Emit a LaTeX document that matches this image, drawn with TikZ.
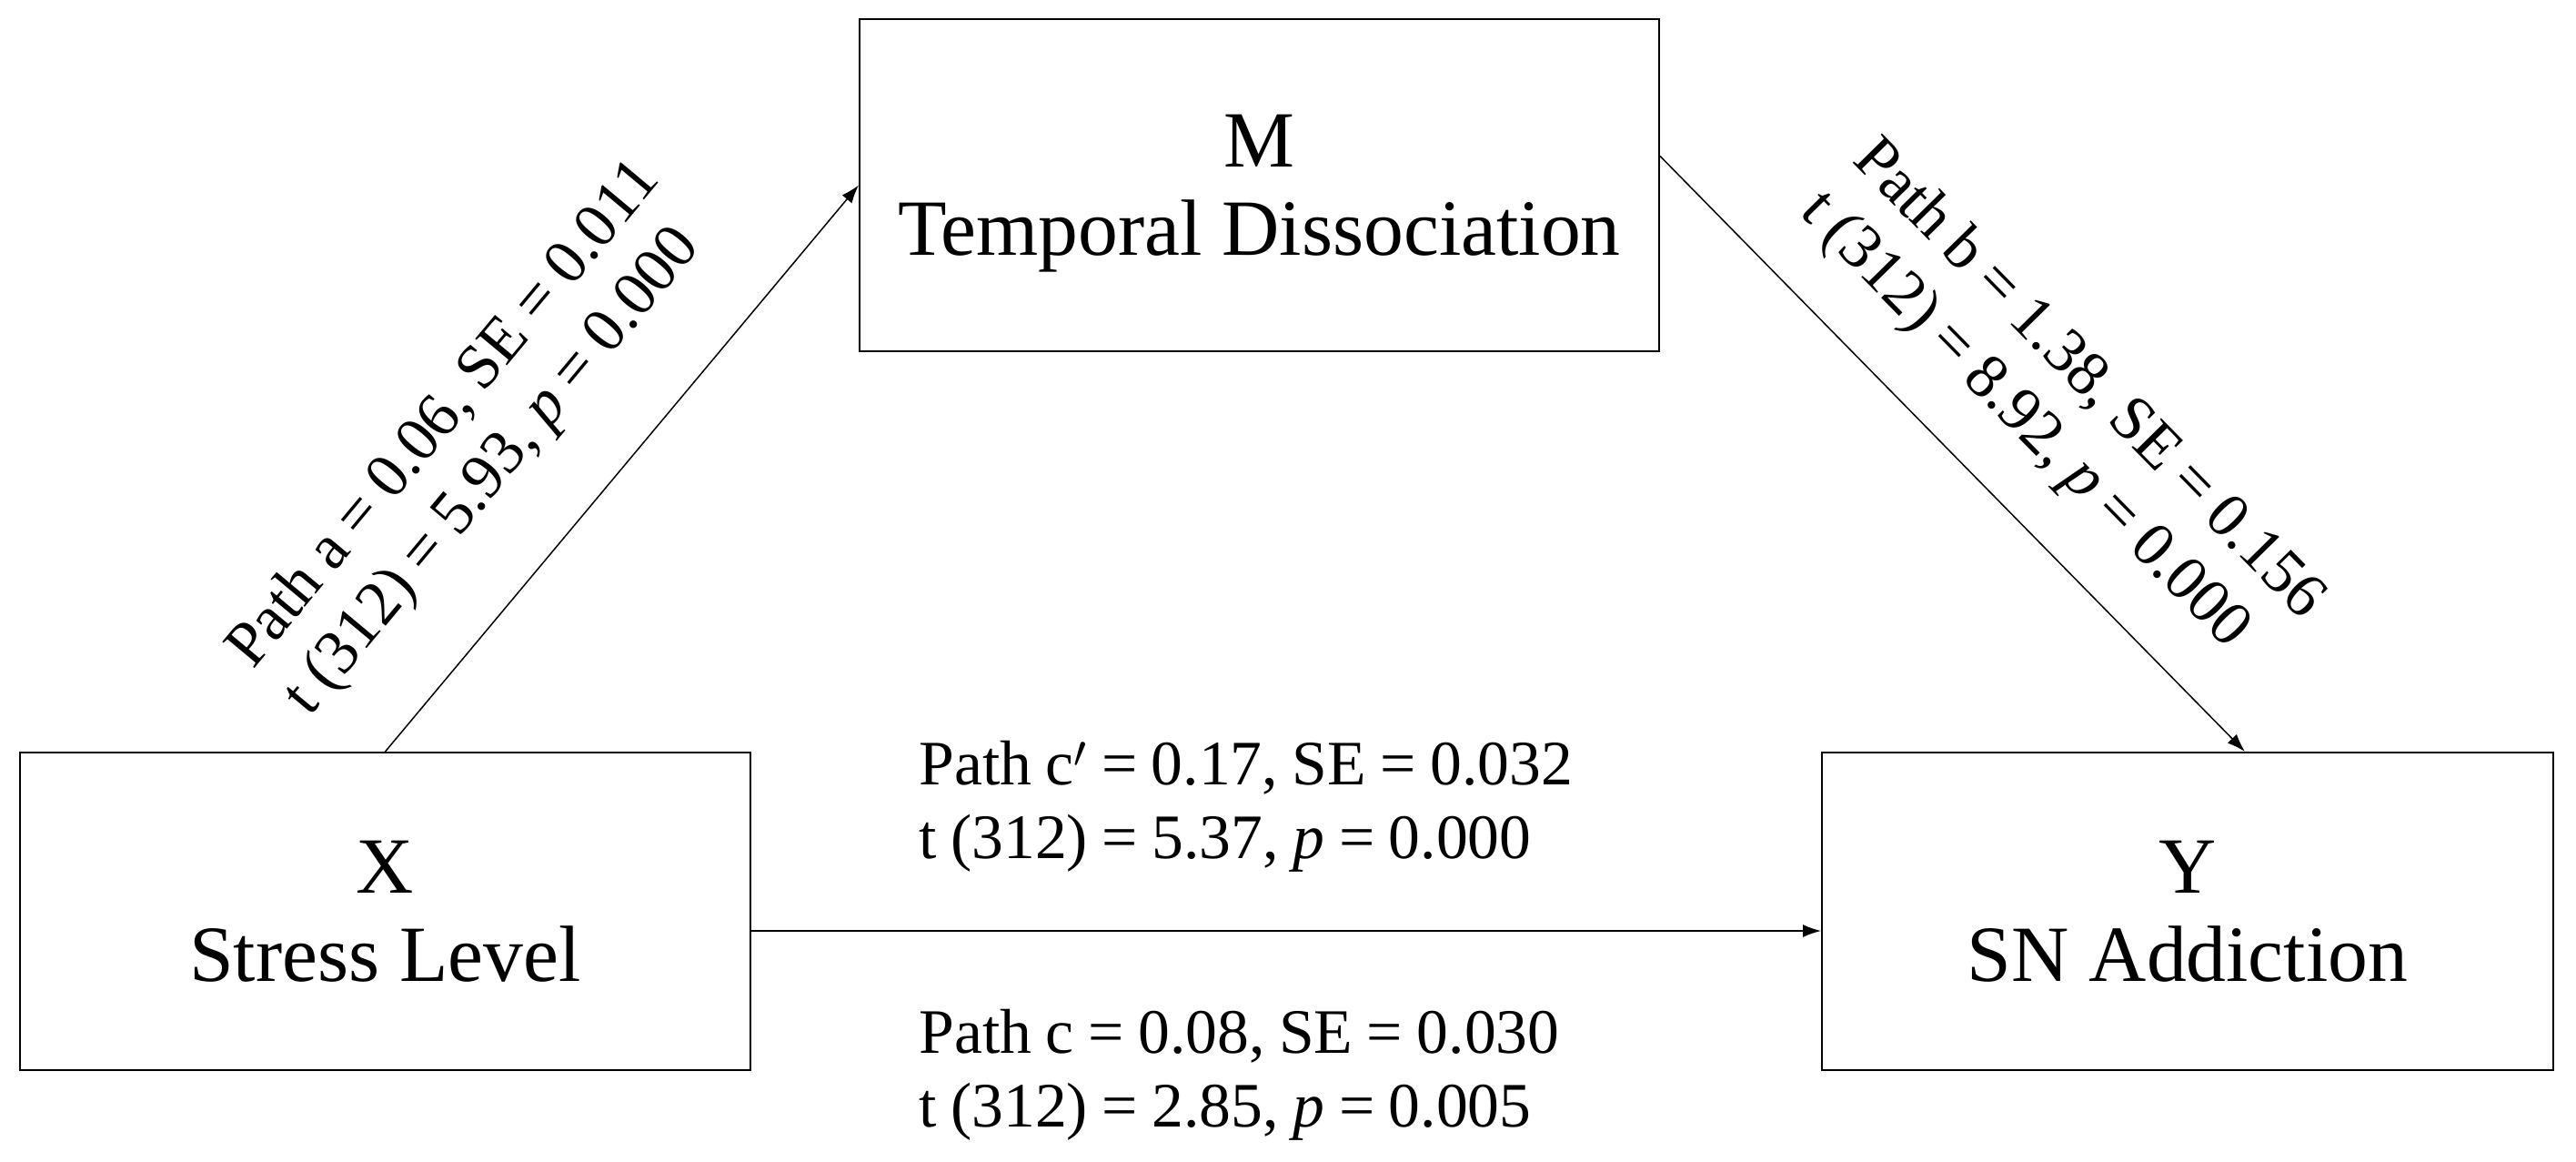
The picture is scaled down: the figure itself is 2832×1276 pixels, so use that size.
\documentclass[tikz,border=0pt]{standalone}
\usepackage{fontspec}
\setmainfont{Liberation Serif}
\newfontfamily\lbfam{Liberation Serif}[WordSpace=0.9]
\usetikzlibrary{arrows.meta}
\newcommand\bxfont{\fontsize{43.8}{48.5}\selectfont}
\newcommand\lbfont{\lbfam\fontsize{34.8}{40.5}\selectfont}
\begin{document}
\begin{tikzpicture}[x=0.5pt,y=-0.5pt,
  box/.style={draw, line width=1pt, inner sep=0pt, align=center, font=\bxfont, text depth=0pt},
  lbl/.style={inner sep=0pt, align=left, font=\lbfont},
  conn/.style={line width=0.75pt, -{Latex[length=10pt,width=7pt]}}]
\useasboundingbox (0,0) rectangle (2832,1276);
\fill[white] (0,0) rectangle (2832,1276);
\node[box, minimum width=439.5pt, minimum height=182.5pt] (M) at (1384.5,203.5) {M\\Temporal Dissociation};
\node[box, minimum width=401.5pt, minimum height=174.5pt] (X) at (423.5,1001.5) {X\\Stress Level};
\node[box, minimum width=402pt, minimum height=174.5pt] (Y) at (2405,1001.5) {Y\\SN Addiction};
\draw[conn] (X.north) -- (M.west);
\draw[conn] ([yshift=16pt]M.east) -- ([xshift=31.5pt]Y.north);
\draw[conn] ([yshift=-10.75pt]X.east) -- ([yshift=-10.75pt]Y.west);
\node[lbl, anchor=base west, rotate=50.2] (la) at (340,789) {Path a = 0.06, SE = 0.011\\t (312) = 5.93, \textit{p} = 0.000};
\node[lbl, anchor=base west, rotate=-45.5] (lb) at (1977,234) {Path b = 1.38, SE = 0.156\\t (312) = 8.92, \textit{p} = 0.000};
\node[lbl, anchor=base west] (lc1) at (1010,943) {Path c$'$ = 0.17, SE = 0.032\\t (312) = 5.37, \textit{p} = 0.000};
\node[lbl, anchor=base west] (lc) at (1010,1238) {Path c = 0.08, SE = 0.030\\t (312) = 2.85, \textit{p} = 0.005};
\end{tikzpicture}
\end{document}
